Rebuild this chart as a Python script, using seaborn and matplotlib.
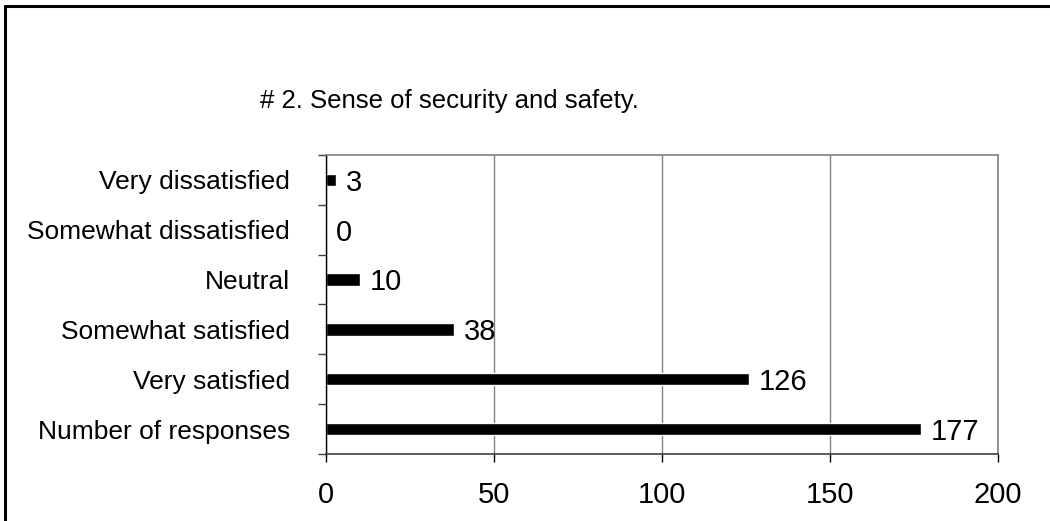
import matplotlib
matplotlib.use("Agg")
import matplotlib.pyplot as plt
from matplotlib.lines import Line2D
import seaborn as sns
import pandas as pd

# Survey question #2: responses by satisfaction level
categories = [
    "Very dissatisfied",
    "Somewhat dissatisfied",
    "Neutral",
    "Somewhat satisfied",
    "Very satisfied",
    "Number of responses",
]
counts = [3, 0, 10, 38, 126, 177]
x_ticks = [0, 50, 100, 150, 200]
title = "# 2. Sense of security and safety."

sns.set_theme(style="white")
plt.rcParams["font.family"] = ["Liberation Sans", "DejaVu Sans"]
plt.rcParams["text.color"] = "black"
plt.rcParams["xtick.color"] = "black"
plt.rcParams["ytick.color"] = "black"

df = pd.DataFrame({"category": categories, "count": counts})

fig = plt.figure(figsize=(10.5, 5.21), dpi=100)
ax = fig.add_axes([0.3105, 0.1286, 0.64, 0.5739])

sns.barplot(data=df, y="category", x="count", orient="h", color="black",
            width=0.25, saturation=1, ax=ax, order=categories)

for c in ax.containers:
    anns = ax.bar_label(c, labels=[str(v) for v in counts], padding=7,
                        fontsize=21, color="black")
    for a in anns:
        a.xyann = (7, -2)

ax.set_xlim(0, 200)
ax.set_ylim(len(categories) - 0.5, -0.5)
ax.set_xticks(x_ticks)
ax.set_xticklabels([str(t) for t in x_ticks], fontsize=21, color="black")
ax.set_xlabel("")
ax.set_ylabel("")

# category labels sit between boundary tick marks
ax.set_yticks(range(len(categories)))
ax.set_yticklabels(categories, fontsize=19, color="black")
ax.set_yticks([i - 0.5 for i in range(len(categories) + 1)], minor=True)
ax.tick_params(axis="y", which="major", length=0, pad=26)
ax.tick_params(axis="y", which="minor", length=5.8, width=1, color="#404040",
               direction="out", left=True)
ax.tick_params(axis="x", which="major", length=5.8, width=1, color="black",
               direction="out", bottom=True, pad=14)

ax.xaxis.grid(True, color="#808080", linewidth=1.0)
ax.yaxis.grid(False)
ax.set_axisbelow(True)

ax.spines["left"].set_color("black")
ax.spines["left"].set_linewidth(1.0)
ax.spines["bottom"].set_color("#404040")
ax.spines["bottom"].set_linewidth(1.2)
for s in ("top", "right"):
    ax.spines[s].set_color("#808080")
    ax.spines[s].set_linewidth(1.2)

fig.text(260 / 1050, 1 - 108 / 521, title, fontsize=18.5, ha="left",
         va="baseline", color="black")

# outer frame (top and left edges)
fig.add_artist(Line2D([5 / 1050, 1.0], [1 - 5.5 / 521, 1 - 5.5 / 521],
                      transform=fig.transFigure, color="black", linewidth=2.2))
fig.add_artist(Line2D([5 / 1050, 5 / 1050], [0.0, 1 - 5.5 / 521],
                      transform=fig.transFigure, color="black", linewidth=2.2))

fig.savefig("out.png", dpi=100, facecolor="white")
